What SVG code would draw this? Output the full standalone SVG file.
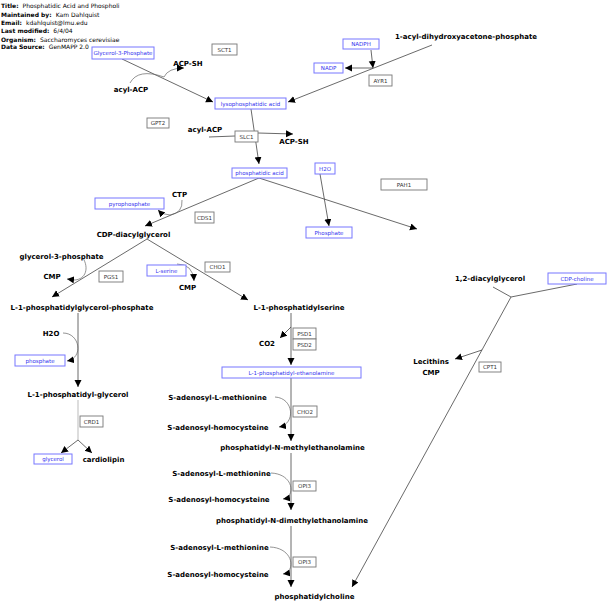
<svg xmlns="http://www.w3.org/2000/svg" width="615" height="610" viewBox="0 0 615 610">
<style>
text{font-family:"DejaVu Sans","Liberation Sans",sans-serif}
.hd{font-size:6px;fill:#000}
.hb{font-weight:bold}
.lbl{font-size:7px;font-weight:bold;fill:#000;text-anchor:middle}
.mb{fill:#fff;stroke:#7777ff;stroke-width:1}
.mt{font-size:5.5px;fill:#3333ee;text-anchor:middle}
.gb{fill:#fff;stroke:#777;stroke-width:0.9}
.gt{font-size:5.5px;fill:#333;text-anchor:middle}
.ln{stroke:#444;stroke-width:0.8;fill:none}
.lc{stroke:#666;stroke-width:0.7;fill:none}
.lg{stroke:#aaa;stroke-width:0.8;fill:none}
.ar{marker-end:url(#ah)}
</style>
<defs>
<marker id="ah" markerUnits="userSpaceOnUse" markerWidth="8" markerHeight="8" refX="7" refY="3.5" orient="auto">
<path d="M0,0 L7,3.5 L0,7 Z" fill="#000"/>
</marker>
</defs>
<rect width="615" height="610" fill="#fff"/>
<g id="header" class="hd">
<text x="1" y="8"><tspan class="hb">Title:</tspan><tspan dx="4">Phosphatidic Acid and Phospholi</tspan></text>
<text x="1" y="16.5"><tspan class="hb">Maintained by:</tspan><tspan dx="4">Kam Dahlquist</tspan></text>
<text x="1" y="25"><tspan class="hb">Email:</tspan><tspan dx="4">kdahlquist@lmu.edu</tspan></text>
<text x="1" y="33"><tspan class="hb">Last modified:</tspan><tspan dx="4">6/4/04</tspan></text>
<text x="1" y="41.5"><tspan class="hb">Organism:</tspan><tspan dx="4">Saccharomyces cerevisiae</tspan></text>
<text x="1" y="48.5"><tspan class="hb">Data Source:</tspan><tspan dx="4">GenMAPP 2.0</tspan></text>
</g>
<g id="connectors">
<path class="ln ar" d="M122,59 L213,102"/>
<path class="ln ar" d="M432,45 L288,102"/>
<path class="ln ar" d="M371,50 L373,68"/>
<path class="ln ar" d="M373,68 L345,68"/>
<path class="lc ar" d="M130,83 Q138,68 164,77 Q168,68 184,68"/>
<path class="ln ar" d="M251,109 L259,164"/>
<path class="ln" d="M209,137 L235,136"/>
<path class="ln ar" d="M258,133 L293,134"/>
<path class="ln ar" d="M320,174 L329,226"/>
<path class="ln ar" d="M259,178 L145,226"/>
<path class="ln ar" d="M259,178 L417,229"/>
<path class="lc ar" d="M182,200 Q183,213 170,215 Q163,215 158,210"/>
<path class="ln ar" d="M147,239 L52,297"/>
<path class="ln ar" d="M147,239 L248,300"/>
<path class="lc ar" d="M83,258 C89,268 86,279 75,280 L67,279"/>
<path class="lc ar" d="M177,264 Q193,264 194,281"/>
<path class="ln ar" d="M291,313 L291,365"/>
<path class="ln ar" d="M291,327 L280,338"/>
<path class="ln ar" d="M291,378 L291,441"/>
<path class="lc ar" d="M275,397 C294,398 296,424 279,427"/>
<path class="ln ar" d="M291,453 L291,510"/>
<path class="lc ar" d="M271,473 C294,474 296,497 283,499"/>
<path class="ln ar" d="M291,526 L291,587"/>
<path class="lc ar" d="M270,547 C294,548 296,572 283,574"/>
<path class="ln" d="M493,287 L511,297 L577,284"/>
<path class="ln ar" d="M511,297 L352,587"/>
<path class="ln ar" d="M482,350 L455,359"/>
<path class="ln ar" d="M78,313 L78,387"/>
<path class="lc ar" d="M63,333 C80,333 84,358 67,361"/>
<path class="lg" d="M78,400 L78,440"/>
<path class="ln ar" d="M78,440 L61,453"/>
<path class="ln ar" d="M78,440 L92,453"/>
</g>
<g id="n-glycerol3p"><rect class="mb" x="92" y="47" width="62" height="12"/><text class="mt" x="123" y="55">Glycerol-3-Phosphate</text></g>
<g id="g-sct1"><rect class="gb" x="212" y="44" width="25" height="11"/><text class="gt" x="224.5" y="51.5">SCT1</text></g>
<g id="n-acpsh1"><text class="lbl" x="188" y="65.5">ACP-SH</text></g>
<g id="n-acylacp1"><text class="lbl" x="131" y="91.5">acyl-ACP</text></g>
<g id="n-acyldhap"><text class="lbl" x="466" y="38.5">1-acyl-dihydroxyacetone-phosphate</text></g>
<g id="n-nadph"><rect class="mb" x="343" y="39" width="36" height="10"/><text class="mt" x="361" y="46">NADPH</text></g>
<g id="n-nadp"><rect class="mb" x="314" y="63" width="29" height="10"/><text class="mt" x="328.5" y="70">NADP</text></g>
<g id="g-ayr1"><rect class="gb" x="369" y="75" width="23" height="11"/><text class="gt" x="380.5" y="82.5">AYR1</text></g>
<g id="n-lpa"><rect class="mb" x="215" y="98" width="71" height="11"/><text class="mt" x="250.5" y="105.5">lysophosphatidic acid</text></g>
<g id="g-gpt2"><rect class="gb" x="147" y="118" width="22" height="10"/><text class="gt" x="158" y="125">GPT2</text></g>
<g id="n-acylacp2"><text class="lbl" x="205" y="131.5">acyl-ACP</text></g>
<g id="g-slc1"><rect class="gb" x="235" y="131" width="23" height="11"/><text class="gt" x="246.5" y="138.5">SLC1</text></g>
<g id="n-acpsh2"><text class="lbl" x="294" y="143.5">ACP-SH</text></g>
<g id="n-pa"><rect class="mb" x="232" y="168" width="55" height="10"/><text class="mt" x="259.5" y="175">phosphatidic acid</text></g>
<g id="n-h2o1"><rect class="mb" x="315" y="163" width="20" height="11"/><text class="mt" x="325" y="170.5">H2O</text></g>
<g id="n-phosphate1"><rect class="mb" x="306" y="227" width="46" height="11"/><text class="mt" x="329" y="234.5">Phosphate</text></g>
<g id="g-pah1"><rect class="gb" x="381" y="179" width="46" height="11"/><text class="gt" x="404" y="186.5">PAH1</text></g>
<g id="n-ctp"><text class="lbl" x="179.5" y="196.5">CTP</text></g>
<g id="n-ppi"><rect class="mb" x="95" y="198" width="69" height="11"/><text class="mt" x="129.5" y="205.5">pyrophosphate</text></g>
<g id="g-cds1"><rect class="gb" x="195" y="212" width="19" height="11"/><text class="gt" x="204.5" y="219.5">CDS1</text></g>
<g id="n-cdpdag"><text class="lbl" x="133.5" y="236.5">CDP-diacylglycerol</text></g>
<g id="n-g3p"><text class="lbl" x="61.5" y="258.5">glycerol-3-phosphate</text></g>
<g id="n-cmp1"><text class="lbl" x="52" y="278.5">CMP</text></g>
<g id="g-pgs1"><rect class="gb" x="99" y="271" width="24" height="11"/><text class="gt" x="111" y="278.5">PGS1</text></g>
<g id="n-pgp"><text class="lbl" x="82" y="310">L-1-phosphatidylglycerol-phosphate</text></g>
<g id="n-serine"><rect class="mb" x="147" y="265" width="39" height="11"/><text class="mt" x="166.5" y="272.5">L-serine</text></g>
<g id="g-cho1"><rect class="gb" x="205" y="262" width="25" height="10"/><text class="gt" x="217.5" y="269">CHO1</text></g>
<g id="n-cmp2"><text class="lbl" x="187.5" y="290">CMP</text></g>
<g id="n-ps"><text class="lbl" x="299" y="310">L-1-phosphatidylserine</text></g>
<g id="n-co2"><text class="lbl" x="267" y="346">CO2</text></g>
<g id="g-psd1"><rect class="gb" x="293" y="328" width="23" height="11"/><text class="gt" x="304.5" y="335.5">PSD1</text></g>
<g id="g-psd2"><rect class="gb" x="293" y="339" width="23" height="11"/><text class="gt" x="304.5" y="346.5">PSD2</text></g>
<g id="n-pe"><rect class="mb" x="222" y="367" width="139" height="11"/><text class="mt" x="291.5" y="374.5">L-1-phosphatidyl-ethanolamine</text></g>
<g id="n-sam1"><text class="lbl" x="217.5" y="399.5">S-adenosyl-L-methionine</text></g>
<g id="n-sah1"><text class="lbl" x="218" y="429.5">S-adenosyl-homocysteine</text></g>
<g id="g-cho2"><rect class="gb" x="293" y="406" width="24" height="11"/><text class="gt" x="305" y="413.5">CHO2</text></g>
<g id="n-pme"><text class="lbl" x="292.5" y="450">phosphatidyl-N-methylethanolamine</text></g>
<g id="n-sam2"><text class="lbl" x="221.5" y="475.5">S-adenosyl-L-methionine</text></g>
<g id="n-sah2"><text class="lbl" x="219" y="501.5">S-adenosyl-homocysteine</text></g>
<g id="g-opi3a"><rect class="gb" x="293" y="481" width="23" height="10"/><text class="gt" x="304.5" y="488">OPI3</text></g>
<g id="n-pdme"><text class="lbl" x="292" y="522.5">phosphatidyl-N-dimethylethanolamine</text></g>
<g id="n-sam3"><text class="lbl" x="219.5" y="550">S-adenosyl-L-methionine</text></g>
<g id="n-sah3"><text class="lbl" x="218" y="576.5">S-adenosyl-homocysteine</text></g>
<g id="g-opi3b"><rect class="gb" x="293" y="557" width="23" height="10"/><text class="gt" x="304.5" y="564">OPI3</text></g>
<g id="n-pc"><text class="lbl" x="314.5" y="599">phosphatidylcholine</text></g>
<g id="n-dag"><text class="lbl" x="490" y="281">1,2-diacylglycerol</text></g>
<g id="n-cdpcho"><rect class="mb" x="548" y="273" width="58" height="11"/><text class="mt" x="577" y="280.5">CDP-choline</text></g>
<g id="n-lec"><text class="lbl" x="431" y="364">Lecithins</text><text class="lbl" x="431" y="375">CMP</text></g>
<g id="g-cpt1"><rect class="gb" x="479" y="362" width="22" height="10"/><text class="gt" x="490" y="369">CPT1</text></g>
<g id="n-h2o2"><text class="lbl" x="51" y="336">H2O</text></g>
<g id="n-phosphate2"><rect class="mb" x="15" y="355" width="50" height="11"/><text class="mt" x="40" y="362.5">phosphate</text></g>
<g id="n-pg"><text class="lbl" x="78" y="396.5">L-1-phosphatidyl-glycerol</text></g>
<g id="g-crd1"><rect class="gb" x="80" y="416" width="23" height="11"/><text class="gt" x="91.5" y="423.5">CRD1</text></g>
<g id="n-glycerol"><rect class="mb" x="34" y="454" width="38" height="10"/><text class="mt" x="53" y="461">glycerol</text></g>
<g id="n-cardiolipin"><text class="lbl" x="103.5" y="461.5">cardiolipin</text></g>
</svg>
